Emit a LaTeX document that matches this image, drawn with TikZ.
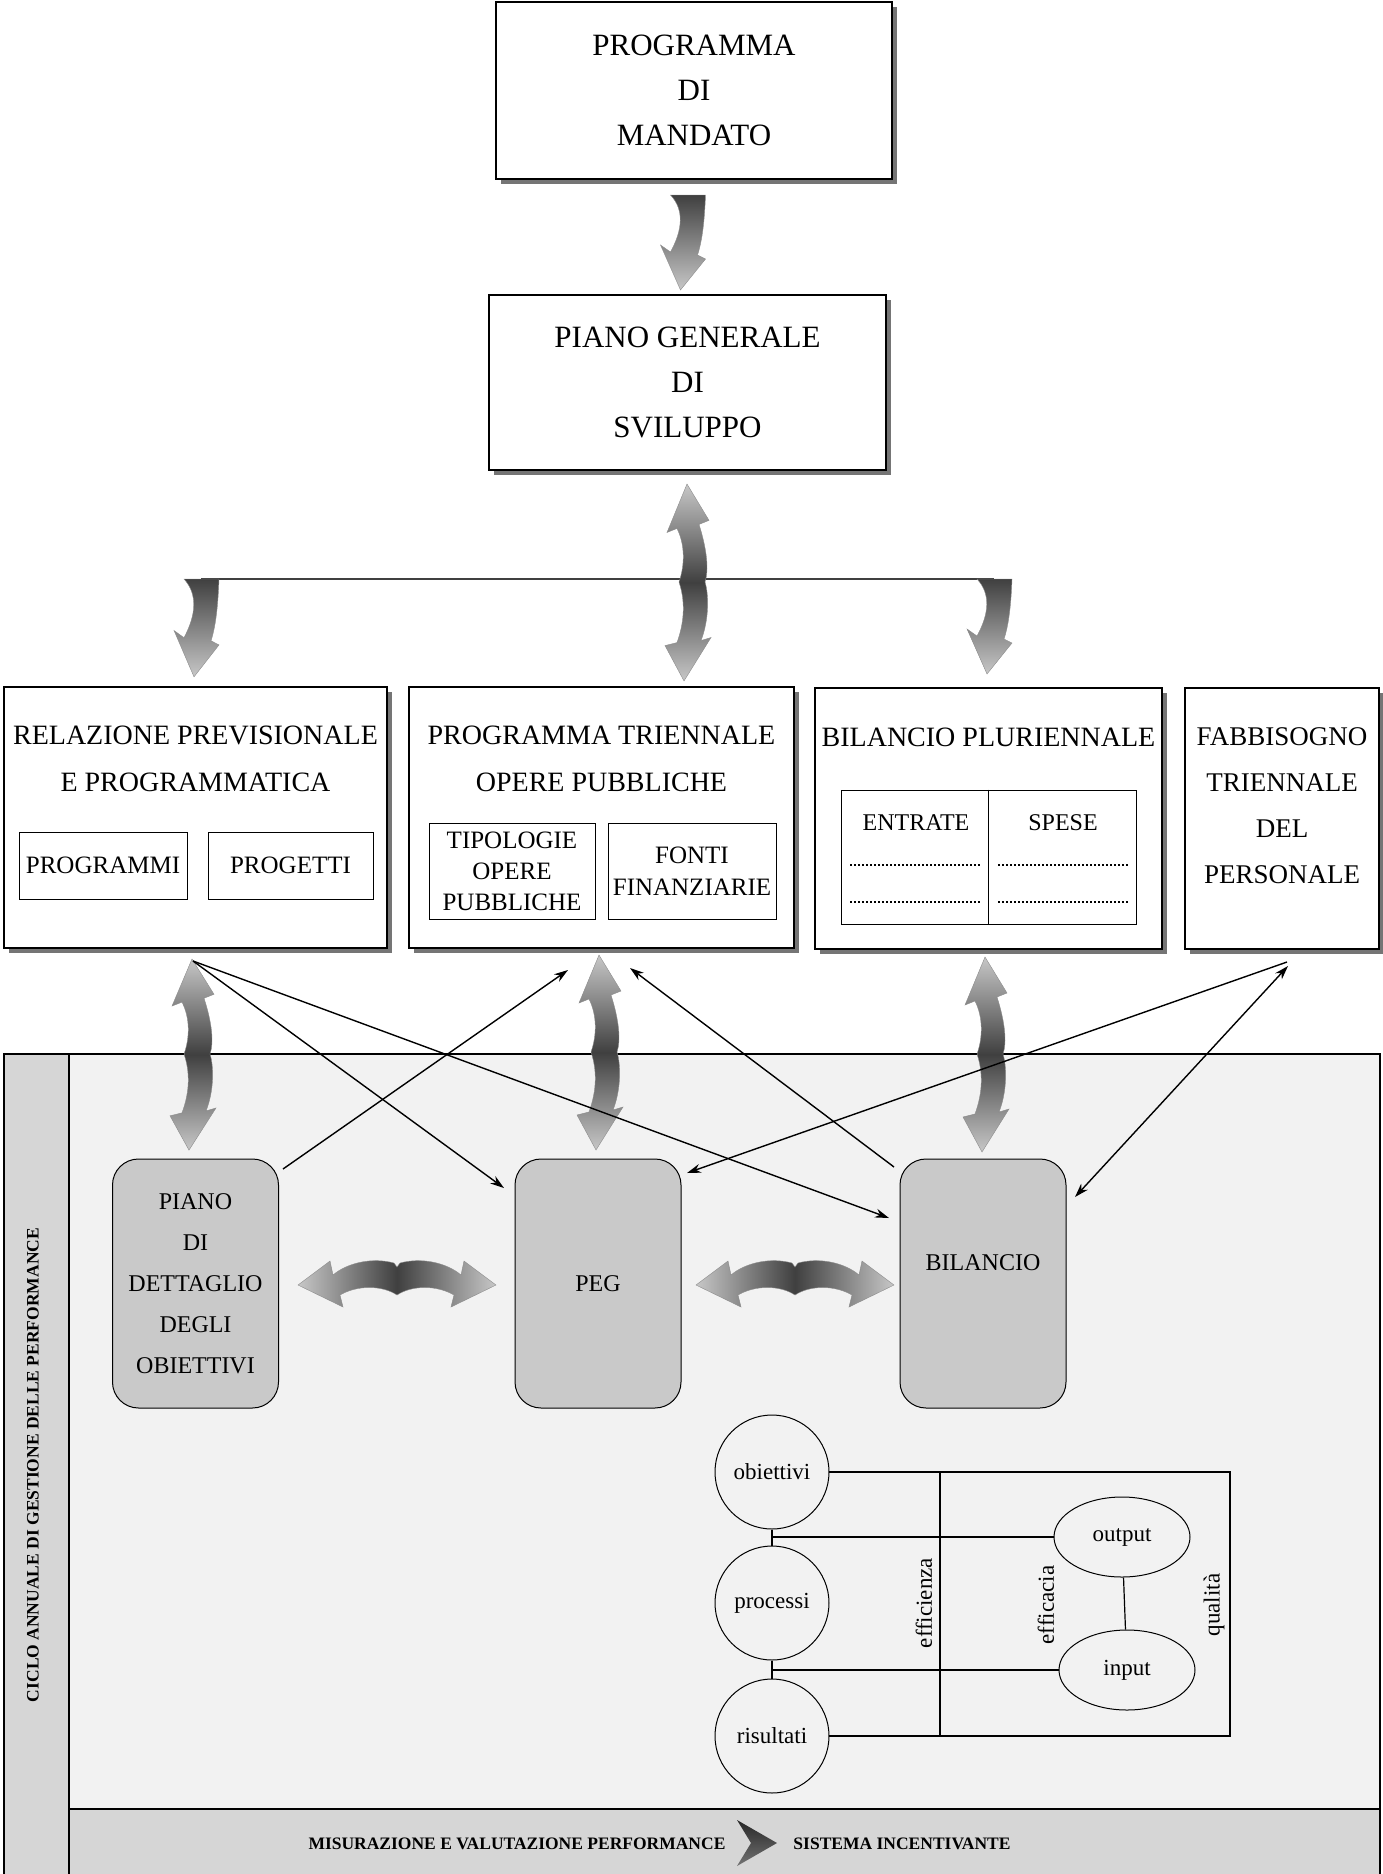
\documentclass[tikz,border=0pt]{standalone}
\usepackage{fontspec}
\setmainfont{Liberation Serif}
\usetikzlibrary{shapes.geometric,shadows,arrows.meta}
\definecolor{panel}{gray}{0.95}
\definecolor{strip}{gray}{0.84}
\definecolor{rgray}{gray}{0.79}
\tikzset{
  box/.style={draw, line width=1.4pt, fill=white, align=center, inner sep=0pt,
    font=\fontsize{31}{45}\selectfont,
    drop shadow={shadow xshift=5pt, shadow yshift=-5pt, fill=black!60, opacity=.9}},
  ttl/.style={align=center, inner sep=0pt, font=\fontsize{28}{47}\selectfont},
  sub/.style={draw, line width=1pt, fill=white, align=center, inner sep=0pt,
    font=\fontsize{25}{31}\selectfont},
  rbox/.style={draw, line width=1pt, fill=rgray, rounded corners=26pt, inner sep=0pt,
    minimum width=166pt, minimum height=249pt, align=center,
    font=\fontsize{24}{41}\selectfont},
  circ/.style={circle, draw, line width=1pt, fill=panel, minimum size=114pt, inner sep=0pt,
    font=\fontsize{23}{28}\selectfont},
  ell/.style={ellipse, draw, line width=1pt, fill=panel, minimum width=136pt, minimum height=80pt,
    inner sep=0pt, font=\fontsize{23}{28}\selectfont},
  lbl/.style={rotate=90, inner sep=0pt, font=\fontsize{23}{28}\selectfont},
  thinarr/.style={line width=1.4pt, -{Stealth[length=14pt,width=9pt]}},
  thinarrb/.style={line width=1.4pt, {Stealth[length=14pt,width=9pt]}-{Stealth[length=14pt,width=9pt]}},
  frame/.style={line width=1.2pt},
  boldtxt/.style={inner sep=0pt, font=\bfseries\fontsize{17.5}{20}\selectfont},
  pics/carrow/.style={code={
    \path[draw=black!45, line width=.4pt, top color=black!75, bottom color=black!22]
      (-17,0) -- (18,0) .. controls (17,25) and (15,45) .. (10,60) -- (18,64) -- (-7,95)
      -- (-27,50) -- (-17,57) .. controls (-5,35) and (-3,15) .. (-17,0) -- cycle;
  }},
  pics/dvarrow/.style={code={
    \path[draw=black!45, line width=.4pt, top color=black!22, bottom color=black!22, middle color=black!75]
      (0,0) -- (22,36) -- (12,40) .. controls (20,65) and (22,85) .. (18,97)
      .. controls (22,110) and (22,135) .. (14,155) -- (24,152) -- (-3,195) -- (-22,160)
      -- (-10,157) .. controls (-2,135) and (-2,115) .. (-8,97)
      .. controls (-2,80) and (-2,60) .. (-10,44) -- (-20,48) -- cycle;
  }},
  pics/dharrow/.style={code={
    \path[draw=black!45, line width=.4pt, left color=black!22, right color=black!22, middle color=black!75]
      (0,-16) -- (3,-20) .. controls (25,-26) and (50,-20) .. (64,-8) -- (67,-22) -- (99,2)
      -- (54,24) -- (57,12) .. controls (40,2) and (15,2) .. (0,12)
      .. controls (-15,2) and (-40,2) .. (-57,12) -- (-54,24) -- (-99,2) -- (-67,-22)
      -- (-64,-8) .. controls (-50,-20) and (-25,-26) .. (-3,-20) -- cycle;
  }},
}
\begin{document}
\begin{tikzpicture}[x=1pt,y=-1pt]
\useasboundingbox (0,0) rectangle (1382,1874);

% ---------- lower panel ----------
\fill[panel] (69,1054) rectangle (1380,1809);
\fill[strip] (4,1054) rectangle (69,1874);
\fill[strip] (69,1809) rectangle (1380,1874);
\draw[frame] (4,1874) -- (4,1054) -- (1380,1054) -- (1380,1874);
\draw[frame] (69,1054) -- (69,1874);
\draw[frame] (69,1809) -- (1380,1809);

\node[boldtxt, rotate=90] (cyc) at (33,1465) {CICLO ANNUALE DI GESTIONE DELLE PERFORMANCE};
\node[boldtxt] (mis) at (517,1844) {MISURAZIONE E VALUTAZIONE PERFORMANCE};
\node[boldtxt] (sis) at (902,1844) {SISTEMA INCENTIVANTE};
\path[top color=black!85, bottom color=black!55] (737,1820) -- (777,1843) -- (737,1866) -- (751,1843) -- cycle;

% ---------- top boxes ----------
\node[box, minimum width=396pt, minimum height=177pt] (pm) at (694,90.5) {PROGRAMMA\\DI\\MANDATO};
\node[box, minimum width=397pt, minimum height=175pt] (pgs) at (687.5,382.5) {PIANO GENERALE\\DI\\SVILUPPO};

% ---------- second row ----------
\node[box, minimum width=383pt, minimum height=261pt] (rpp) at (195.5,817.5) {};
\node[ttl] (rppt) at (195.5,758.5) {RELAZIONE PREVISIONALE\\E PROGRAMMATICA};
\node[sub, minimum width=168pt, minimum height=67pt] (prg) at (103,865.5) {PROGRAMMI};
\node[sub, minimum width=165pt, minimum height=67pt] (prj) at (290.5,865.5) {PROGETTI};

\node[box, minimum width=385pt, minimum height=261pt] (ptop) at (601.5,817.5) {};
\node[ttl] (ptopt) at (601.5,758.5) {PROGRAMMA TRIENNALE\\OPERE PUBBLICHE};
\node[sub, minimum width=166pt, minimum height=96pt] (tip) at (512,871) {TIPOLOGIE\\OPERE\\PUBBLICHE};
\node[sub, minimum width=168pt, minimum height=96pt, font=\fontsize{25}{32}\selectfont] (fon) at (692,871) {FONTI\\FINANZIARIE};

\node[box, minimum width=347pt, minimum height=261pt] (bp) at (988.5,818.5) {};
\node[ttl] (bpt) at (988.5,737) {BILANCIO PLURIENNALE};
\node[sub, minimum width=295pt, minimum height=134pt] (tab) at (988.5,857) {};
\draw[line width=1pt] (tab.north) -- (tab.south);
\node[inner sep=0pt, font=\fontsize{24}{28}\selectfont] (ent) at (916,823) {ENTRATE};
\node[inner sep=0pt, font=\fontsize{24}{28}\selectfont] (spe) at (1063,823) {SPESE};
\draw[line width=1.6pt, dash pattern=on 1.6pt off 2.4pt] (850,865) -- (981,865) (998,865) -- (1128,865)
  (850,902) -- (981,902) (998,902) -- (1128,902);

\node[box, minimum width=194pt, minimum height=261pt] (ftp) at (1282,818.5) {};
\node[ttl, font=\fontsize{27}{46}\selectfont] (ftpt) at (1282,806) {FABBISOGNO\\TRIENNALE\\DEL\\PERSONALE};

% ---------- rounded boxes ----------
\node[rbox] (pdo) at (195.5,1283.5) {PIANO\\DI\\DETTAGLIO\\DEGLI\\OBIETTIVI};
\node[rbox] (peg) at (598,1283.5) {PEG};
\node[rbox] (bil) at (983,1283.5) {};
\node[inner sep=0pt, font=\fontsize{24}{28}\selectfont] (bilt) at (983,1263) {BILANCIO};

% ---------- small diagram ----------
\coordinate (q1) at (1230,1472);
\coordinate (q2) at (1230,1736);
\coordinate (e1) at (940,1472);
\coordinate (e2) at (940,1736);
\coordinate (j1) at (772,1537);
\coordinate (j2) at (772,1670);
\draw[frame] (j1) -- (1054,1537);
\draw[frame] (j2) -- (1060,1670);
\draw[frame] (772,1472) -- (q1) -- (q2) -- (772,1736);
\draw[frame] (e1) -- (e2);
\node[circ] (obi) at (772,1472) {obiettivi};
\node[circ] (pro) at (772,1603) {processi};
\node[circ] (ris) at (772,1736) {risultati};
\node[ell] (out) at (1122,1537) {output};
\node[ell] (inp) at (1127,1670) {input};
\draw[frame] (obi) -- (pro);
\draw[frame] (pro) -- (ris);
\draw[frame] (out) -- (inp);
\node[lbl] (l1) at (924,1603) {efficienza};
\node[lbl] (l2) at (1046,1605) {efficacia};
\node[lbl] (l3) at (1214,1605) {qualità};

% ---------- curved arrows ----------
\coordinate (hl1) at (201,579);
\coordinate (hl2) at (994,579);
\draw[line width=2pt, black!75] (hl1) -- (hl2);
\pic at (687.5,195) {carrow};
\pic[yscale=1.03] at (201,579) {carrow};
\pic at (994,579) {carrow};
\pic[yscale=1.01] at (687,484) {dvarrow};
\pic[yscale=0.98] at (192,959) {dvarrow};
\pic at (599,955) {dvarrow};
\pic at (985,957) {dvarrow};
\pic at (397,1283) {dharrow};
\pic at (795,1283) {dharrow};

% ---------- thin arrows ----------
\coordinate (p1) at (193,961);
\coordinate (ftp1) at (1287,962);
\coordinate (ftp2) at (1288,966);
\coordinate (ptopL) at (568,970);
\coordinate (ptopR) at (630,968);
\coordinate (pegL) at (504,1188);
\coordinate (pegR) at (687,1173);
\coordinate (bilL) at (889,1218);
\coordinate (bilR) at (1075,1197);
\coordinate (pdoR) at (283,1169);
\coordinate (bilT) at (894,1167);
\draw[thinarr] (p1) -- (pegL);
\draw[thinarr] (p1) -- (bilL);
\draw[thinarr] (pdoR) -- (ptopL);
\draw[thinarr] (bilT) -- (ptopR);
\draw[thinarr] (ftp1) -- (pegR);
\draw[thinarrb] (bilR) -- (ftp2);
\end{tikzpicture}
\end{document}
